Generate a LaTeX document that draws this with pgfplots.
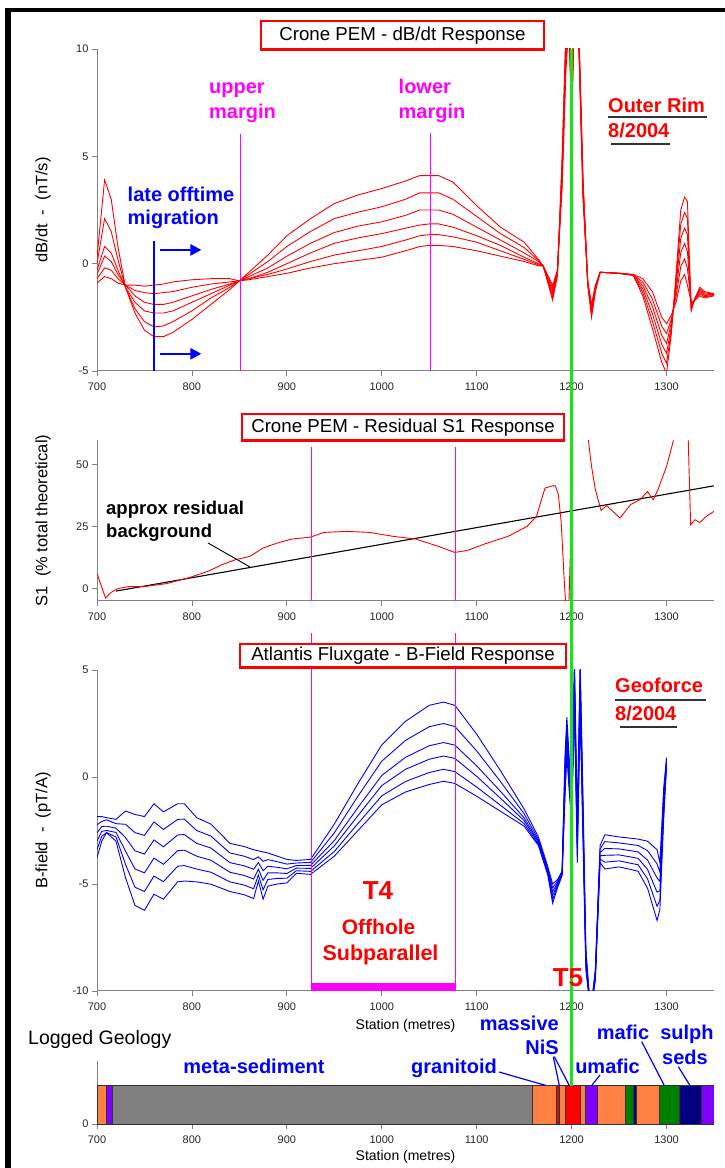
\documentclass[border=0pt]{standalone}
\usepackage{fontspec}
\setmainfont{Liberation Sans}
\usepackage{pgfplots}
\pgfplotsset{compat=1.18}
\usetikzlibrary{arrows.meta}

\definecolor{geoorange}{RGB}{255,128,64}
\definecolor{geopurple}{RGB}{128,0,255}
\definecolor{geogray}{RGB}{128,128,128}
\definecolor{geodred}{RGB}{200,20,20}
\definecolor{geogreen}{RGB}{0,128,0}
\definecolor{geonavy}{RGB}{0,0,128}
\definecolor{markgreen}{RGB}{20,230,20}
\definecolor{axgray}{RGB}{130,130,130}
\definecolor{mag}{RGB}{255,0,255}
\definecolor{pblue}{RGB}{0,0,255}
\definecolor{pred}{RGB}{255,0,0}

\newcommand\fs[1]{\fontsize{#1}{#1}\selectfont}

\pgfplotsset{
  panel/.style={
    scale only axis, width=617pt, xmin=700, xmax=1350,
    anchor=south west, clip mode=individual,
    axis lines*=left, axis line style={-, draw=axgray, line width=1pt},
    tick align=outside, major tick length=5pt,
    tick style={draw=axgray, line width=0.8pt},
    xtick={700,800,...,1300},
    ticklabel style={font=\fs{11}, text=black!85},
    xticklabel style={yshift=-3pt},
    /pgf/number format/assume math mode=true,
    /pgf/number format/1000 sep={},
    ylabel style={at={(axis description cs:-0.0875,0.5)}, anchor=center, font=\fs{16.5}},
    xlabel style={font=\fs{14}},
  },
}

\begin{document}
\begin{tikzpicture}
\begin{scope}[x=1pt,y=1pt]
  \path[use as bounding box, fill=white] (0,0) rectangle (725,1168);
\end{scope}

% ---------- dB/dt ----------
\begin{axis}[panel, at={(97pt,797pt)}, height=322pt,
  ymin=-5, ymax=10, ytick={-5,0,5,10},
  ylabel={dB/dt\ \ -\ \ (nT/s)}]
  \addplot[pred, line width=0.9pt] coordinates {(700,0.3) (708,3.9) (715,3.0) (722,0.8) (730,-1.1) (740,-2.3) (750,-3.1) (760,-3.4) (770,-3.4) (780,-3.2) (800,-2.6) (820,-1.9) (840,-1.2) (850,-0.8) (860,-0.4) (880,0.4) (900,1.3) (925,2.1) (950,2.8) (975,3.2) (1000,3.5) (1025,3.85) (1040,4.1) (1050,4.1) (1060,4.1) (1075,3.8) (1100,2.7) (1125,1.7) (1150,1.0) (1165,0.2) (1170,-0.1) (1180,-1.7) (1185,-0.6) (1190,5) (1194,11) (1197,12) (1200,6) (1203,12) (1207,12) (1212,4) (1217,-1) (1221,-2.5) (1225,-1.3) (1230,-0.4) (1250,-0.45) (1265,-0.55) (1275,-1.5) (1285,-3.0) (1295,-4.6) (1300,-5.1) (1305,-3.3) (1310,-0.5) (1315,2.5) (1319,3.1) (1322,2.9) (1326,-2.2) (1330,-1.6) (1335,-1.1) (1340,-1.3) (1350,-1.4)};
  \addplot[pred, line width=0.9pt] coordinates {(700,0.0) (708,2.1) (715,1.5) (722,0.2) (730,-1.1) (740,-2.1) (750,-2.7) (760,-2.95) (770,-2.9) (780,-2.7) (800,-2.2) (820,-1.6) (840,-1.1) (850,-0.8) (860,-0.5) (880,0.1) (900,0.8) (925,1.5) (950,2.1) (975,2.4) (1000,2.65) (1025,3.0) (1040,3.3) (1050,3.3) (1060,3.3) (1075,3.0) (1100,2.2) (1125,1.4) (1150,0.75) (1165,0.15) (1170,-0.1) (1180,-1.56) (1185,-0.54) (1190,4.7) (1194,10.6) (1197,11.8) (1200,6.6) (1203,11.8) (1207,11.8) (1212,3.8) (1217,-0.96) (1221,-2.38) (1225,-1.24) (1230,-0.4) (1250,-0.45) (1265,-0.54) (1275,-1.34) (1285,-2.66) (1295,-4.18) (1300,-4.64) (1305,-3.12) (1310,-0.76) (1315,1.84) (1319,2.38) (1322,2.12) (1326,-2.12) (1330,-1.62) (1335,-1.18) (1340,-1.36) (1350,-1.42)};
  \addplot[pred, line width=0.9pt] coordinates {(700,-0.3) (708,0.8) (715,0.5) (722,-0.3) (730,-1.1) (740,-1.8) (750,-2.2) (760,-2.3) (770,-2.3) (780,-2.2) (800,-1.8) (820,-1.4) (840,-1.0) (850,-0.8) (860,-0.6) (880,-0.2) (900,0.35) (925,0.95) (950,1.45) (975,1.75) (1000,1.95) (1025,2.25) (1040,2.5) (1050,2.5) (1060,2.5) (1075,2.3) (1100,1.7) (1125,1.1) (1150,0.5) (1165,0.1) (1170,-0.1) (1180,-1.42) (1185,-0.48) (1190,4.4) (1194,10.2) (1197,11.6) (1200,7.2) (1203,11.6) (1207,11.6) (1212,3.6) (1217,-0.92) (1221,-2.26) (1225,-1.18) (1230,-0.4) (1250,-0.45) (1265,-0.53) (1275,-1.18) (1285,-2.32) (1295,-3.76) (1300,-4.18) (1305,-2.94) (1310,-1.02) (1315,1.18) (1319,1.66) (1322,1.34) (1326,-2.04) (1330,-1.64) (1335,-1.26) (1340,-1.42) (1350,-1.44)};
  \addplot[pred, line width=0.9pt] coordinates {(700,-0.5) (708,0.35) (715,0.1) (722,-0.5) (730,-1.0) (740,-1.5) (750,-1.8) (760,-1.9) (770,-1.9) (780,-1.8) (800,-1.5) (820,-1.2) (840,-0.95) (850,-0.8) (860,-0.7) (880,-0.4) (900,0.0) (925,0.5) (950,0.95) (975,1.2) (1000,1.4) (1025,1.65) (1040,1.8) (1050,1.85) (1060,1.85) (1075,1.7) (1100,1.3) (1125,0.85) (1150,0.3) (1165,0.0) (1170,-0.1) (1180,-1.28) (1185,-0.42) (1190,4.1) (1194,9.8) (1197,11.4) (1200,7.8) (1203,11.4) (1207,11.4) (1212,3.4) (1217,-0.88) (1221,-2.14) (1225,-1.12) (1230,-0.4) (1250,-0.45) (1265,-0.52) (1275,-1.02) (1285,-1.98) (1295,-3.34) (1300,-3.72) (1305,-2.76) (1310,-1.28) (1315,0.52) (1319,0.94) (1322,0.56) (1326,-1.96) (1330,-1.66) (1335,-1.34) (1340,-1.48) (1350,-1.46)};
  \addplot[pred, line width=0.9pt] coordinates {(700,-0.7) (708,-0.2) (715,-0.3) (722,-0.7) (730,-1.0) (740,-1.25) (750,-1.35) (760,-1.4) (770,-1.35) (780,-1.3) (800,-1.1) (820,-0.95) (840,-0.85) (850,-0.8) (860,-0.7) (880,-0.5) (900,-0.25) (925,0.1) (950,0.4) (975,0.6) (1000,0.8) (1025,1.1) (1040,1.3) (1050,1.35) (1060,1.35) (1075,1.25) (1100,1.0) (1125,0.6) (1150,0.2) (1165,-0.05) (1170,-0.1) (1180,-1.14) (1185,-0.36) (1190,3.8) (1194,9.4) (1197,11.2) (1200,8.4) (1203,11.2) (1207,11.2) (1212,3.2) (1217,-0.84) (1221,-2.02) (1225,-1.06) (1230,-0.4) (1250,-0.45) (1265,-0.51) (1275,-0.86) (1285,-1.64) (1295,-2.92) (1300,-3.26) (1305,-2.58) (1310,-1.54) (1315,-0.14) (1319,0.22) (1322,-0.22) (1326,-1.88) (1330,-1.68) (1335,-1.42) (1340,-1.54) (1350,-1.48)};
  \addplot[pred, line width=0.9pt] coordinates {(700,-0.9) (708,-0.6) (715,-0.7) (722,-0.9) (730,-1.0) (740,-1.0) (750,-1.05) (760,-1.0) (770,-0.95) (780,-0.85) (800,-0.75) (820,-0.7) (840,-0.7) (850,-0.8) (860,-0.75) (880,-0.6) (900,-0.45) (925,-0.2) (950,0.0) (975,0.15) (1000,0.3) (1025,0.6) (1040,0.8) (1050,0.85) (1060,0.85) (1075,0.8) (1100,0.6) (1125,0.35) (1150,0.1) (1165,-0.1) (1170,-0.1) (1180,-1.0) (1185,-0.3) (1190,3.5) (1194,9) (1197,11) (1200,9) (1203,11) (1207,11) (1212,3) (1217,-0.8) (1221,-1.9) (1225,-1.0) (1230,-0.4) (1250,-0.45) (1265,-0.5) (1275,-0.7) (1285,-1.3) (1295,-2.5) (1300,-2.8) (1305,-2.4) (1310,-1.8) (1315,-0.8) (1319,-0.5) (1322,-1.0) (1326,-1.8) (1330,-1.7) (1335,-1.5) (1340,-1.6) (1350,-1.5)};
  % margins and migration marker
  \draw[draw=mag, line width=1.2pt] (axis cs:851,6.04) -- (axis cs:851,-5);
  \draw[draw=mag, line width=1.2pt] (axis cs:1051,6.1) -- (axis cs:1051,-5);
  \draw[pblue, line width=2.5pt] (axis cs:760,1.06) -- (axis cs:760,-5);
  \draw[pblue, line width=2.5pt, -{Triangle[length=11pt,width=11pt]}] (axis cs:766,0.64) -- (axis cs:810,0.64);
  \draw[pblue, line width=2.5pt, -{Triangle[length=11pt,width=11pt]}] (axis cs:766,-4.2) -- (axis cs:810,-4.2);
\end{axis}

% ---------- Residual S1 ----------
\begin{axis}[panel, at={(97pt,567pt)}, height=161pt,
  ymin=-5, ymax=60, ytick={0,25,50},
  ylabel={S1\ \ (\% total theoretical)}, unbounded coords=jump]
  \addplot[black, line width=1.1pt] coordinates {(720,-1) (1350,41.5)};
  \addplot[pred, line width=0.9pt] coordinates {(700,6) (709,-3.8) (715,-1.5) (722,0) (733,0.8) (749,0.8) (773,2) (797,4.4) (817,7) (832,9.7) (846,11.7) (861,13) (875,16.4) (890,18.4) (905,20) (925,20.8) (939,22.7) (963,23.1) (987,22.7) (1012,21.1) (1036,20) (1060,17) (1077,14.6) (1090,15.4) (1109,18.1) (1133,21.1) (1153,25.1) (1163,29.2) (1172,40.6) (1180,41.5) (1183,41.5) (1186,38) (1189,27) (1192,5) (1194,-8) (1197,-8) (1199,18.5) (1205,nan) (1216,65) (1221,49.3) (1225,40) (1231,31.6) (1237,33.5) (1251,28.5) (1262,33.9) (1272,35.9) (1280,39.2) (1286,35.9) (1291,40) (1300,49.3) (1307,59.4) (1308,65) (1315,nan) (1322.5,65) (1325.4,25.8) (1330,27.8) (1335,26.7) (1342,29.2) (1350,31.2)};
  % margin lines as thin filled strips
  \fill[mag] (axis cs:925.25,57.3) rectangle (axis cs:926.75,-5);
  \fill[mag] (axis cs:1076.95,57.3) rectangle (axis cs:1078.45,-5);
\end{axis}

% ---------- B-field ----------
\begin{axis}[panel, at={(97pt,177pt)}, height=321pt,
  ymin=-10, ymax=5, ytick={-10,-5,0,5},
  ylabel={B-field\ \ -\ \ (pT/A)},
  xlabel={Station (metres)}, xlabel style={at={(axis description cs:0.5,0)}, anchor=center, yshift=-35pt}]
  \addplot[pblue, line width=0.9pt] coordinates {(700,-1.85) (705,-1.85) (710,-1.9) (720,-1.98) (730,-1.59) (740,-1.75) (750,-1.85) (760,-1.25) (770,-1.63) (785,-1.25) (792,-1.25) (805,-1.9) (820,-2.2) (840,-3.1) (855,-3.25) (865,-3.4) (870,-3.45) (875,-3.5) (880,-3.55) (890,-3.7) (900,-3.85) (910,-3.9) (925,-3.85) (950,-2.2) (975,-0.3) (1000,1.5) (1025,2.6) (1050,3.35) (1065,3.5) (1077,3.35) (1100,2.0) (1125,0.3) (1150,-1.5) (1165,-2.8) (1175,-4.2) (1180,-5.0) (1185,-4.8) (1190,-4.4) (1193,1.0) (1195,2.8) (1198,0.5) (1200,-1.0) (1203,5.5) (1206,-2.0) (1209,5.5) (1212,-1.0) (1215,-8) (1220,-11) (1225,-9) (1230,-3.2) (1235,-2.7) (1250,-2.8) (1270,-2.9) (1280,-3.0) (1290,-3.4) (1293,-4.0) (1297,-0.5) (1300,0.9)};
  \addplot[pblue, line width=0.9pt] coordinates {(700,-2.23) (705,-2.08) (710,-2.0) (720,-2.18) (730,-2.21) (740,-2.6) (750,-2.73) (760,-2.1) (770,-2.45) (785,-1.98) (792,-1.97) (805,-2.5) (820,-2.76) (840,-3.55) (855,-3.7) (865,-3.86) (870,-3.73) (875,-3.94) (880,-3.86) (890,-3.96) (900,-4.07) (910,-4.02) (925,-3.99) (950,-2.61) (975,-0.89) (1000,0.74) (1025,1.71) (1050,2.35) (1065,2.5) (1077,2.36) (1100,1.22) (1125,-0.21) (1150,-1.72) (1165,-2.91) (1175,-4.28) (1180,-5.18) (1185,-4.88) (1190,-4.44) (1193,0.6) (1195,2.44) (1198,0.2) (1200,-1.2) (1203,5.0) (1206,-2.4) (1209,5.0) (1212,-1.4) (1215,-8.2) (1220,-11) (1225,-9.1) (1230,-3.36) (1235,-3.02) (1250,-3.08) (1270,-3.2) (1280,-3.44) (1290,-4.06) (1293,-4.44) (1297,-0.8) (1300,0.82)};
  \addplot[pblue, line width=0.9pt] coordinates {(700,-2.62) (705,-2.31) (710,-2.3) (720,-2.39) (730,-2.83) (740,-3.45) (750,-3.6) (760,-2.94) (770,-3.26) (785,-2.71) (792,-2.69) (805,-3.1) (820,-3.32) (840,-4.0) (855,-4.15) (865,-4.31) (870,-4.0) (875,-4.38) (880,-4.17) (890,-4.22) (900,-4.29) (910,-4.14) (925,-4.13) (950,-2.97) (975,-1.42) (1000,0.07) (1025,0.92) (1050,1.46) (1065,1.61) (1077,1.49) (1100,0.52) (1125,-0.67) (1150,-1.91) (1165,-3.0) (1175,-4.36) (1180,-5.36) (1185,-4.96) (1190,-4.48) (1193,0.2) (1195,2.08) (1198,-0.1) (1200,-1.4) (1203,4.5) (1206,-2.8) (1209,4.5) (1212,-1.8) (1215,-8.4) (1220,-11) (1225,-9.2) (1230,-3.52) (1235,-3.34) (1250,-3.36) (1270,-3.5) (1280,-3.88) (1290,-4.72) (1293,-4.88) (1297,-1.1) (1300,0.74)};
  \addplot[pblue, line width=0.9pt] coordinates {(700,-3.0) (705,-2.54) (710,-2.5) (720,-2.59) (730,-3.46) (740,-4.3) (750,-4.48) (760,-3.79) (770,-4.08) (785,-3.44) (792,-3.42) (805,-3.7) (820,-3.89) (840,-4.45) (855,-4.6) (865,-4.77) (870,-4.31) (875,-4.83) (880,-4.48) (890,-4.48) (900,-4.51) (910,-4.26) (925,-4.27) (950,-3.22) (975,-1.8) (1000,-0.4) (1025,0.36) (1050,0.83) (1065,0.98) (1077,0.87) (1100,0.03) (1125,-0.99) (1150,-2.04) (1165,-3.07) (1175,-4.44) (1180,-5.54) (1185,-5.04) (1190,-4.52) (1193,-0.2) (1195,1.72) (1198,-0.4) (1200,-1.6) (1203,4.0) (1206,-3.2) (1209,4.0) (1212,-2.2) (1215,-8.6) (1220,-11) (1225,-9.3) (1230,-3.68) (1235,-3.66) (1250,-3.64) (1270,-3.8) (1280,-4.32) (1290,-5.38) (1293,-5.32) (1297,-1.4) (1300,0.66)};
  \addplot[pblue, line width=0.9pt] coordinates {(700,-3.39) (705,-2.77) (710,-2.6) (720,-2.8) (730,-4.08) (740,-5.15) (750,-5.35) (760,-4.63) (770,-4.89) (785,-4.17) (792,-4.14) (805,-4.3) (820,-4.45) (840,-4.9) (855,-5.05) (865,-5.22) (870,-4.58) (875,-5.27) (880,-4.79) (890,-4.74) (900,-4.73) (910,-4.38) (925,-4.41) (950,-3.48) (975,-2.17) (1000,-0.88) (1025,-0.21) (1050,0.21) (1065,0.36) (1077,0.25) (1100,-0.47) (1125,-1.32) (1150,-2.18) (1165,-3.14) (1175,-4.52) (1180,-5.72) (1185,-5.12) (1190,-4.56) (1193,-0.6) (1195,1.36) (1198,-0.7) (1200,-1.8) (1203,3.5) (1206,-3.6) (1209,3.5) (1212,-2.6) (1215,-8.8) (1220,-11) (1225,-9.4) (1230,-3.84) (1235,-3.98) (1250,-3.92) (1270,-4.1) (1280,-4.76) (1290,-6.04) (1293,-5.76) (1297,-1.7) (1300,0.58)};
  \addplot[pblue, line width=0.9pt] coordinates {(700,-3.77) (705,-3.0) (710,-2.6) (720,-3.0) (730,-4.7) (740,-6.0) (750,-6.23) (760,-5.48) (770,-5.71) (785,-4.9) (792,-4.86) (805,-4.9) (820,-5.01) (840,-5.35) (855,-5.5) (865,-5.68) (870,-4.86) (875,-5.71) (880,-5.1) (890,-5.0) (900,-4.95) (910,-4.5) (925,-4.55) (950,-3.7) (975,-2.5) (1000,-1.3) (1025,-0.7) (1050,-0.35) (1065,-0.2) (1077,-0.3) (1100,-0.9) (1125,-1.6) (1150,-2.3) (1165,-3.2) (1175,-4.6) (1180,-5.9) (1185,-5.2) (1190,-4.6) (1193,-1.0) (1195,1.0) (1198,-1.0) (1200,-2.0) (1203,3.0) (1206,-4.0) (1209,3.0) (1212,-3.0) (1215,-9) (1220,-11) (1225,-9.5) (1230,-4.0) (1235,-4.3) (1250,-4.2) (1270,-4.4) (1280,-5.2) (1290,-6.7) (1293,-6.2) (1297,-2.0) (1300,0.5)};
  \addplot[fill=mag, draw=none] coordinates {(925.5,-10) (925.5,-9.63) (1077.5,-9.63) (1077.5,-10)} -- cycle;
  % margin lines continue up to the S1 panel
  \fill[mag] (axis cs:925.25,-10) rectangle (axis cs:926.75,6.75);
  \fill[mag] (axis cs:1076.95,-10) rectangle (axis cs:1078.45,6.75);
\end{axis}

% ---------- Logged geology ----------
\begin{axis}[panel, at={(97pt,44pt)}, height=63pt,
  ymin=0, ymax=1.65, ytick={0},
  xlabel={Station (metres)}, xlabel style={at={(axis description cs:0.5,0)}, anchor=center, yshift=-33pt}]
  \addplot[fill=geoorange, draw=black!80, line width=0.8pt] coordinates {(700,0) (700,1) (710,1) (710,0)} -- cycle;
  \addplot[fill=geopurple, draw=black!80, line width=0.8pt] coordinates {(710,0) (710,1) (716,1) (716,0)} -- cycle;
  \addplot[fill=geogray, draw=black!80, line width=0.8pt] coordinates {(716,0) (716,1) (1159,1) (1159,0)} -- cycle;
  \addplot[fill=geoorange, draw=black!80, line width=0.8pt] coordinates {(1159,0) (1159,1) (1183.5,1) (1183.5,0)} -- cycle;
  \addplot[fill=geodred, draw=black!80, line width=0.8pt] coordinates {(1183.5,0) (1183.5,1) (1187,1) (1187,0)} -- cycle;
  \addplot[fill=geoorange, draw=black!80, line width=0.8pt] coordinates {(1187,0) (1187,1) (1193,1) (1193,0)} -- cycle;
  \addplot[fill=pred, draw=black!80, line width=0.8pt] coordinates {(1193,0) (1193,1) (1209,1) (1209,0)} -- cycle;
  \addplot[fill=geoorange, draw=black!80, line width=0.8pt] coordinates {(1209,0) (1209,1) (1214.5,1) (1214.5,0)} -- cycle;
  \addplot[fill=geopurple, draw=black!80, line width=0.8pt] coordinates {(1214.5,0) (1214.5,1) (1227.5,1) (1227.5,0)} -- cycle;
  \addplot[fill=geoorange, draw=black!80, line width=0.8pt] coordinates {(1227.5,0) (1227.5,1) (1257,1) (1257,0)} -- cycle;
  \addplot[fill=geogreen, draw=black!80, line width=0.8pt] coordinates {(1257,0) (1257,1) (1265.5,1) (1265.5,0)} -- cycle;
  \addplot[fill=geonavy, draw=black!80, line width=0.8pt] coordinates {(1265.5,0) (1265.5,1) (1268.5,1) (1268.5,0)} -- cycle;
  \addplot[fill=geoorange, draw=black!80, line width=0.8pt] coordinates {(1268.5,0) (1268.5,1) (1293,1) (1293,0)} -- cycle;
  \addplot[fill=geogreen, draw=black!80, line width=0.8pt] coordinates {(1293,0) (1293,1) (1314,1) (1314,0)} -- cycle;
  \addplot[fill=geonavy, draw=black!80, line width=0.8pt] coordinates {(1314,0) (1314,1) (1337,1) (1337,0)} -- cycle;
  \addplot[fill=geopurple, draw=black!80, line width=0.8pt] coordinates {(1337,0) (1337,1) (1350,1) (1350,0)} -- cycle;
\end{axis}

\begin{scope}[x=1pt,y=1pt]
  % green marker at 1200 m and frame bands
  \draw[draw=markgreen, line width=2.5pt] (571.6,1119) -- (571.6,82.2);
  \fill[black] (5,0) rectangle (11,1160);
  \fill[black] (5,1155.5) rectangle (725,1160);
  % titles
  \node[draw=pred, line width=2.5pt, fill=white, minimum width=283pt, minimum height=28.5pt, inner sep=0pt, font=\fs{18.7}] at (402.5,1132.5) {Crone PEM - dB/dt Response};
  \node[draw=pred, line width=2.5pt, fill=white, minimum width=322pt, minimum height=26.5pt, inner sep=0pt, font=\fs{18.7}] at (403,740.5) {Crone PEM - Residual S1 Response};
  \node[draw=pred, line width=2.5pt, fill=white, minimum width=326pt, minimum height=23.5pt, inner sep=0pt, font=\fs{18.7}] at (403,512) {Atlantis Fluxgate - B-Field Response};
  % panel 1 annotations
  \begin{scope}[every node/.style={inner sep=0pt, font=\bfseries\fs{20}}]
    \node[anchor=base west, text=mag] at (209,1074) {upper};
    \node[anchor=base west, text=mag] at (209,1049) {margin};
    \node[anchor=base west, text=mag] at (398.5,1074) {lower};
    \node[anchor=base west, text=mag] at (398.5,1049) {margin};
    \node[anchor=base west, text=pblue] at (127.5,966) {late offtime};
    \node[anchor=base west, text=pblue] at (127.5,943) {migration};
    \node[anchor=base west, text=pred] at (608,1055) {Outer Rim};
    \node[anchor=base west, text=pred] at (608,1030) {8/2004};
    \node[anchor=base west, text=pred] at (615,475) {Geoforce};
    \node[anchor=base west, text=pred] at (615,447) {8/2004};
  \end{scope}
  \draw[black!80, line width=1.6pt] (608,1050.7) -- (707,1050.7);
  \draw[black!80, line width=1.6pt] (611,1024) -- (670,1024);
  \draw[black!80, line width=1.6pt] (615,468) -- (706,468);
  \draw[black!80, line width=1.6pt] (619.5,441) -- (677,441);
  % panel 2 annotation
  \node[anchor=base west, inner sep=0pt, font=\bfseries\fs{18.5}] at (106,653) {approx residual};
  \node[anchor=base west, inner sep=0pt, font=\bfseries\fs{18.5}] at (106,630) {background};
  \draw[black, line width=0.9pt] (208,625) -- (250,601);
  % panel 3 annotations
  \node[anchor=base, inner sep=0pt, text=pred, font=\bfseries\fs{26}] at (378,268.6) {T4};
  \node[anchor=base, inner sep=0pt, text=pred, font=\bfseries\fs{21}] at (378.6,233.5) {Offhole};
  \node[anchor=base, inner sep=0pt, text=pred, font=\bfseries\fs{21.5}] at (380.5,207) {Subparallel};
  \node[anchor=base, inner sep=0pt, text=pred, font=\bfseries\fs{26}] at (568,181.6) {T5};
  % geology annotations
  \node[anchor=base west, inner sep=0pt, font=\fs{19.5}] at (28,123) {Logged Geology};
  \begin{scope}[every node/.style={inner sep=0pt, text=pblue, font=\bfseries\fs{20}}]
    \node[anchor=base] at (254,94) {meta-sediment};
    \node[anchor=base] at (454,94) {granitoid};
    \node[anchor=base east] at (559,137.5) {massive};
    \node[anchor=base east] at (559,113) {NiS};
    \node[anchor=base] at (607.5,94) {umafic};
    \node[anchor=base] at (623,128) {mafic};
    \node[anchor=base] at (687,128) {sulph};
    \node[anchor=base] at (685,103) {seds};
  \end{scope}
  \draw[pblue, line width=1.2pt] (499,96) -- (546,82.5);
  \draw[pblue, line width=1.2pt] (553.3,111.3) -- (559.3,82.5);
  \draw[pblue, line width=1.2pt] (554.3,111.3) -- (569.3,82.5);
  \draw[pblue, line width=1.2pt] (600,93) -- (591.7,82.5);
  \draw[pblue, line width=1.2pt] (641.7,126.3) -- (664.3,82.5);
  \draw[pblue, line width=1.2pt] (678.3,101.3) -- (690,82.5);
\end{scope}
\end{tikzpicture}
\end{document}
